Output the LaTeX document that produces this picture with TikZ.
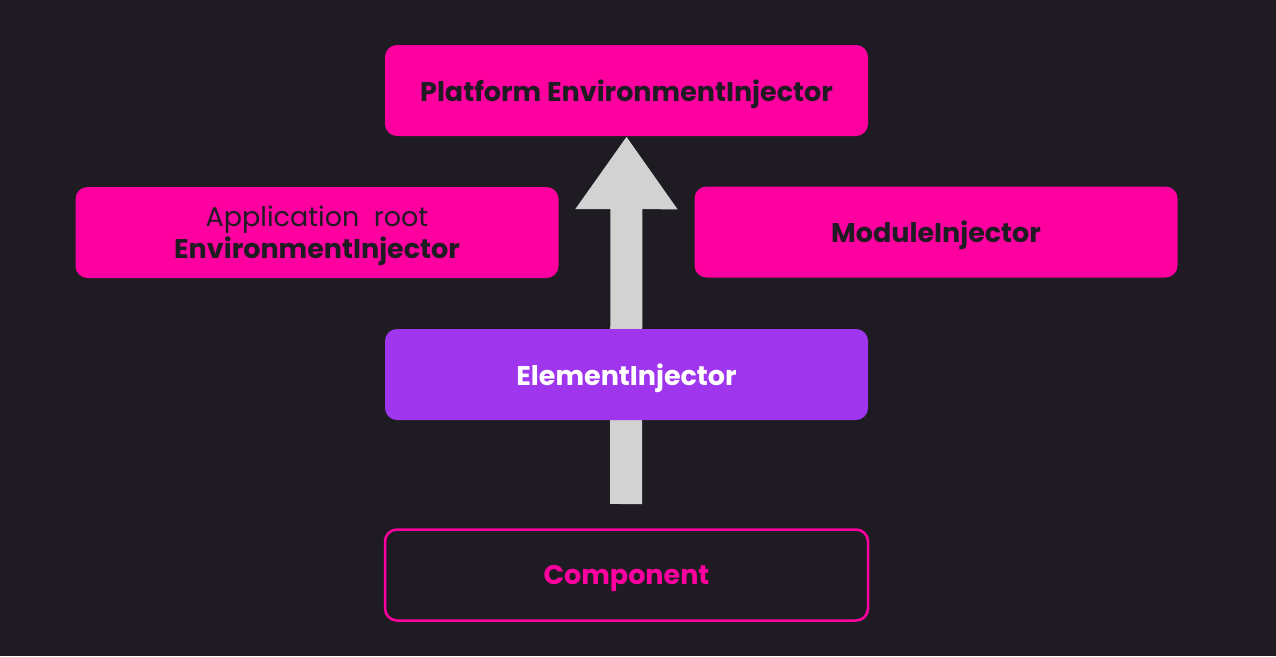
\documentclass[tikz,border=0pt]{standalone}
\usepackage{fontspec}
\setmainfont{Poppins}
\usetikzlibrary{arrows.meta}
\definecolor{bg}{HTML}{1E1C22}
\definecolor{pinkc}{HTML}{FF00A0}
\definecolor{purplec}{HTML}{A035EE}
\definecolor{arrowc}{HTML}{D2D2D2}
\tikzset{
  box/.style={rounded corners=12pt, minimum width=483pt, minimum height=91pt, inner sep=0pt, align=center, text depth=0pt, font=\fontsize{27}{32}\selectfont\bfseries},
  pinkbox/.style={box, fill=pinkc, text=bg},
  purplebox/.style={box, fill=purplec, text=white},
  outlinebox/.style={box, draw=pinkc, line width=2.5pt, fill=bg, text=pinkc},
  bigarrow/.style={draw=arrowc, line width=32pt, -{Triangle[width=97pt,length=73pt]}},
}
\begin{document}
\begin{tikzpicture}[x=1pt,y=-1pt]
\fill[bg] (0,0) rectangle (1276,656);
\useasboundingbox (0,0) rectangle (1276,656);
\node[pinkbox] (platform) at (626.5,90.5) {Platform EnvironmentInjector};
\node[pinkbox] (approot) at (317,232.5) {{\mdseries Application\ \ root}\\EnvironmentInjector};
\node[pinkbox] (module) at (936,232) {ModuleInjector};
\node[outlinebox] (component) at (626.5,575) {Component};
\coordinate (astart) at (626,504);
\draw[bigarrow] (astart) -- (platform.south);
\node[purplebox] (element) at (626.5,374.5) {ElementInjector};
\end{tikzpicture}
\end{document}
